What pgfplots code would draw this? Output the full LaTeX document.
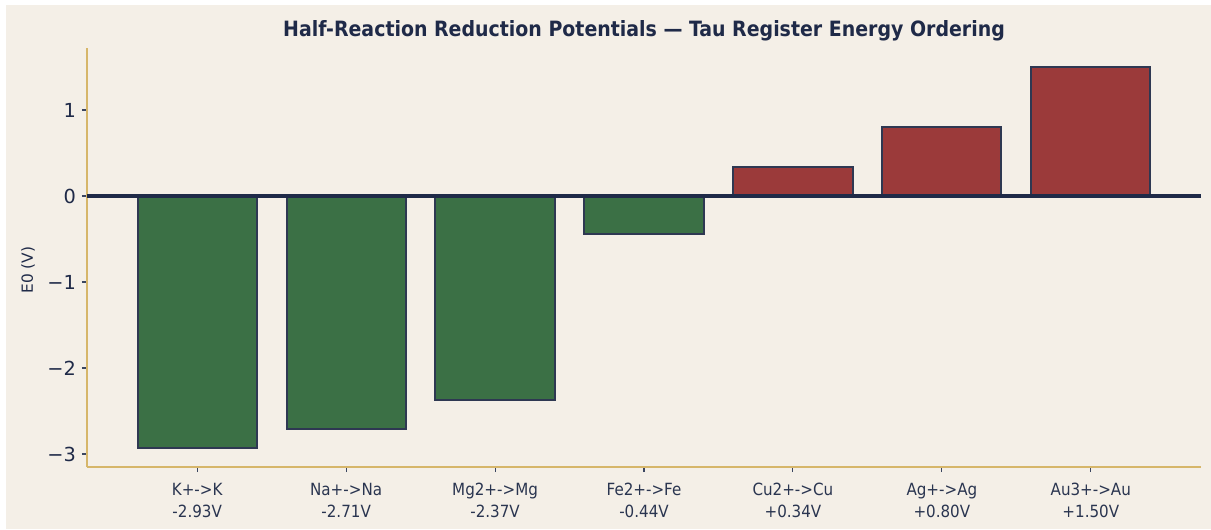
\documentclass[border=0pt]{standalone}
\usepackage{pgfplots}
\pgfplotsset{compat=1.18}
\usepackage{fontspec}
\setmainfont{DejaVu Sans}
\newfontfamily\condfont{DejaVu Sans Condensed}
\newfontfamily\condbold{DejaVu Sans Condensed Bold}
\definecolor{bg}{HTML}{F4EFE7}
\definecolor{navy}{HTML}{1F2A48}
\definecolor{labc}{HTML}{2A3550}
\definecolor{edgec}{HTML}{2E3852}
\definecolor{gbar}{HTML}{3B7045}
\definecolor{rbar}{HTML}{9B3A3A}
\definecolor{gold}{HTML}{D6B66A}
\definecolor{tickg}{HTML}{3A4560}
\begin{document}
\begin{tikzpicture}[x=0.75pt,y=0.75pt]
\fill[white] (0,0) rectangle (1211,529);
\fill[bg] (6,0) rectangle (1211,524);
\node[anchor=base, text=navy, font=\condbold\fontsize{15.8}{18}\selectfont] at (644,492) {Half-Reaction Reduction Potentials — Tau Register Energy Ordering};
\node[rotate=90, text=navy, font=\fontsize{11.5}{13}\selectfont] at (28,259) {E0 (V)};
\begin{axis}[
  at={(65.25pt,46.5pt)}, anchor=south west,
  scale only axis, width=835.5pt, height=314.25pt,
  xmin=-0.74, xmax=6.74, ymin=-3.1515, ymax=1.7215,
  axis x line*=bottom, axis y line*=left,
  axis line style={draw=gold, line width=1.1pt},
  xtick={0,...,6},
  xticklabels={{K+->K\\-2.93V},{Na+->Na\\-2.71V},{Mg2+->Mg\\-2.37V},{Fe2+->Fe\\-0.44V},{Cu2+->Cu\\+0.34V},{Ag+->Ag\\+0.80V},{Au3+->Au\\+1.50V}},
  xticklabel style={align=center, text=labc, font=\condfont\fontsize{12.6}{16.5}\selectfont, yshift=-5pt},
  ytick={-3,-2,-1,0,1},
  yticklabels={−3,−2,−1,0,1},
  yticklabel style={text=navy, font=\fontsize{14.5}{16}\selectfont, xshift=-1pt},
  tick align=outside, major tick length=3.75pt,
  tick style={draw=tickg, line width=0.8pt},
  ybar, bar width=0.8, bar shift=0pt,
  clip=false,
]
\addplot[fill=gbar, draw=edgec, line width=1.5pt] coordinates {(0,-2.93) (1,-2.71) (2,-2.37) (3,-0.44)};
\addplot[fill=rbar, draw=edgec, line width=1.5pt] coordinates {(4,0.34) (5,0.80) (6,1.50)};
\draw[navy, line width=2.6pt] (axis cs:-0.74,0) -- (axis cs:6.74,0);
\end{axis}
\end{tikzpicture}
\end{document}
